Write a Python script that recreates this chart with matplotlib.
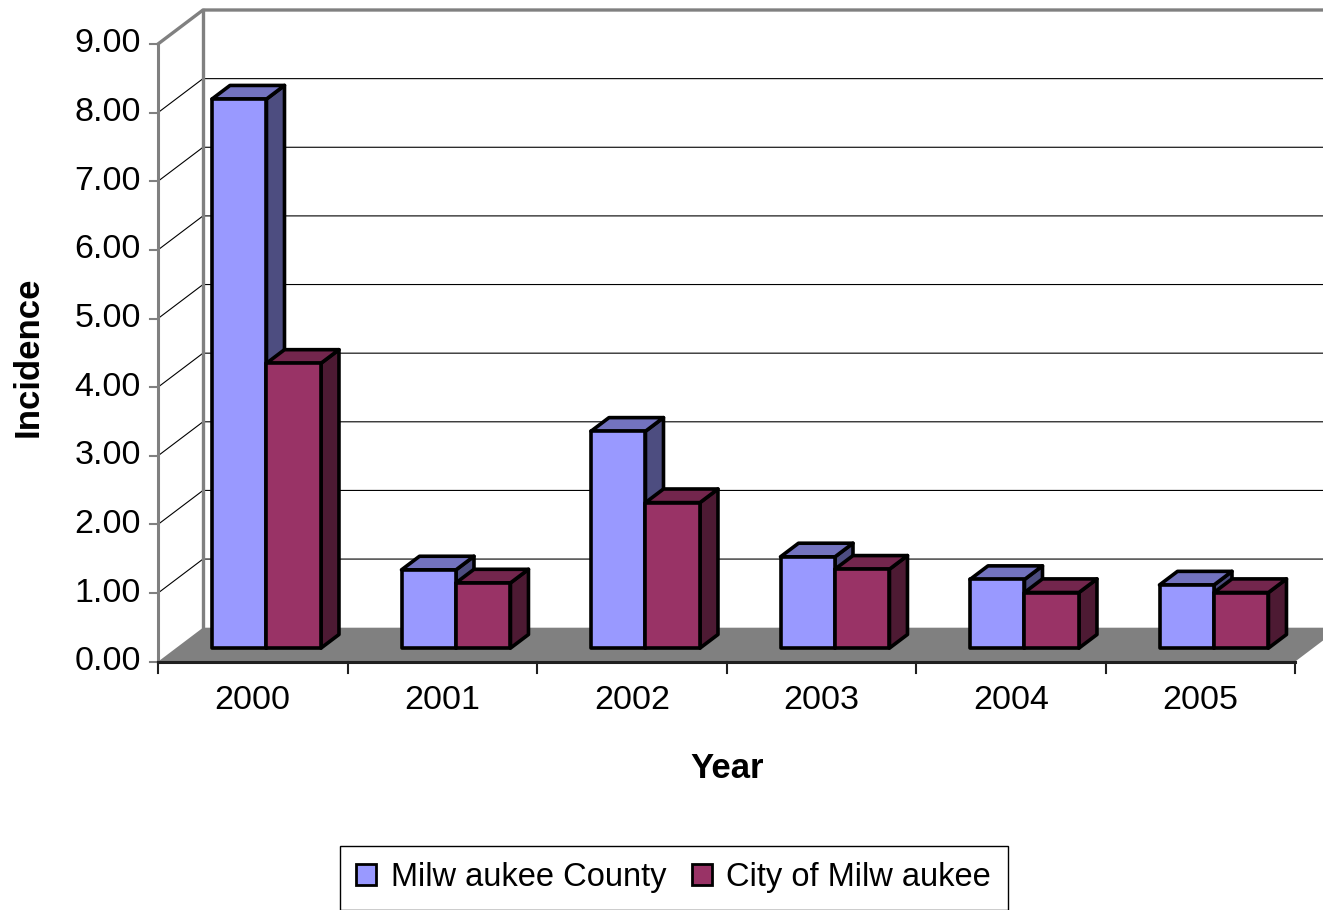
import matplotlib
matplotlib.use("Agg")
import matplotlib.pyplot as plt
from matplotlib.patches import Polygon, Patch
from matplotlib.colors import to_rgb

years = ["2000", "2001", "2002", "2003", "2004", "2005"]
county = [8.00, 1.14, 3.16, 1.33, 1.00, 0.92]
city = [4.15, 0.95, 2.12, 1.15, 0.81, 0.81]
y_ticks = [0, 1, 2, 3, 4, 5, 6, 7, 8, 9]
series_names = ["Milw aukee County", "City of Milw aukee"]
series_colors = ["#9999FF", "#993366"]

plt.rcParams['font.family'] = ['Liberation Sans', 'DejaVu Sans']

W, H = 1323, 910
fig = plt.figure(figsize=(W / 100, H / 100), dpi=100)

# front plane of the plot area, in pixels
left, right, bottom, top = 158, 1295, 661.7, 44
ax = fig.add_axes([left / W, 1 - bottom / H, (right - left) / W, (bottom - top) / H])
n = len(years)
ymax = y_ticks[-1]
ax.set_xlim(0, n)
ax.set_ylim(0, ymax)
ax.axis("off")

px_x = (right - left) / n      # pixels per category
px_y = (bottom - top) / ymax   # pixels per unit
# oblique depth of the chart box, in data units
DX = 45 / px_x
DY = 34 / px_y

grey = "#808080"


def proj(x, y, z):
    return (x + z * DX, y + z * DY)


def shade(color, f):
    r, g, b = to_rgb(color)
    return (r * f, g * f, b * f)


def draw_bar(x0, x1, h, z0, z1, color, zorder):
    front = [proj(x0, 0, z0), proj(x1, 0, z0), proj(x1, h, z0), proj(x0, h, z0)]
    side = [proj(x1, 0, z0), proj(x1, 0, z1), proj(x1, h, z1), proj(x1, h, z0)]
    topf = [proj(x0, h, z0), proj(x1, h, z0), proj(x1, h, z1), proj(x0, h, z1)]
    for pts, fc in [(side, shade(color, 0.5)), (topf, shade(color, 0.75)), (front, color)]:
        ax.add_patch(Polygon(pts, closed=True, facecolor=fc, edgecolor="black",
                             linewidth=2.6, joinstyle="round", clip_on=False, zorder=zorder))


# walls and gridlines
for v in y_ticks[1:-1]:
    ax.plot([0, DX, n + DX], [v, v + DY, v + DY], color="black", lw=0.8, clip_on=False, zorder=1)
ax.plot([0, DX, n + DX + 1], [ymax, ymax + DY, ymax + DY], color=grey, lw=2.4, clip_on=False, zorder=1)
ax.plot([DX, DX], [DY, ymax + DY], color=grey, lw=2.4, clip_on=False, zorder=1)

# floor
ax.add_patch(Polygon([proj(0, 0, 0), proj(n, 0, 0), proj(n, 0, 1), proj(0, 0, 1)],
                     closed=True, facecolor=grey, edgecolor="none", clip_on=False, zorder=2))

# value axis
ax.plot([0, 0], [0, ymax], color=grey, lw=2.2, clip_on=False, zorder=3)
for v in y_ticks:
    ax.plot([-8 / px_x, 0], [v, v], color=grey, lw=1.5, clip_on=False, zorder=3)
    ax.text(-17 / px_x, v, f"{v:.2f}", ha="right", va="center", fontsize=24.5)

# category axis
ax.plot([0, n], [0, 0], color="#202020", lw=2.2, clip_on=False, zorder=3)
for i in range(n + 1):
    ax.plot([i, i], [0, -11 / px_y], color="#202020", lw=1.5, clip_on=False, zorder=3)
for i, yr in enumerate(years):
    ax.text(i + 0.5, -39 / px_y, yr, ha="center", va="center", fontsize=24.5)

# bars, drawn left to right so each face covers the one behind it
bw = 0.2875
for i in range(n):
    x0 = i + 0.19
    draw_bar(x0, x0 + bw, county[i], 0.4, 0.8, series_colors[0], 5 + 2 * i)
    draw_bar(x0 + bw, x0 + 2 * bw, city[i], 0.4, 0.8, series_colors[1], 6 + 2 * i)

fig.text(727 / W, 1 - 769 / H, "Year", ha="center", va="center", fontsize=25, fontweight="bold")
fig.text(28 / W, 1 - 357 / H, "Incidence", ha="center", va="center", rotation=90,
         fontsize=25, fontweight="bold")

handles = [Patch(facecolor=c, edgecolor="black", linewidth=2) for c in series_colors]
leg = fig.legend(handles, series_names, loc="upper left", bbox_to_anchor=(340 / W, 1 - 846 / H),
                 ncol=2, frameon=True, fancybox=False, edgecolor="black", framealpha=1,
                 fontsize=23.5, handlelength=0.6, handleheight=0.6, handletextpad=0.45,
                 columnspacing=0.8, borderpad=0.5, borderaxespad=0)
leg.get_frame().set_linewidth(1)

fig.savefig("out.png", dpi=100)
